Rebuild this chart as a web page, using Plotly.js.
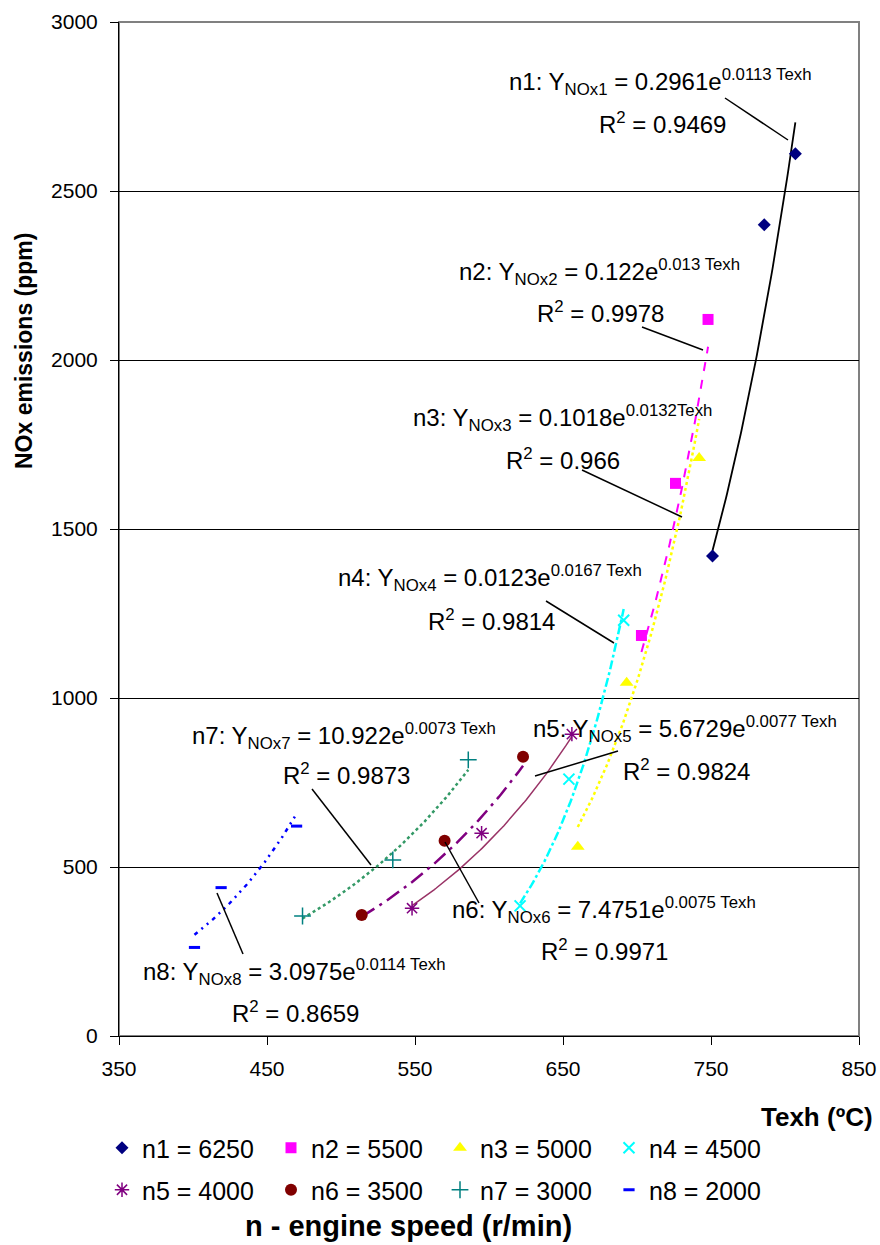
<!DOCTYPE html>
<html><head><meta charset="utf-8">
<script src="https://cdn.plot.ly/plotly-3.0.1.min.js"></script>
<style>html,body{margin:0;padding:0;background:#fff;}#chart{width:880px;height:1245px;}</style>
</head><body><div id="chart"></div>
<script>
// ---- data ----
const seriesNames = ['n1 = 6250','n2 = 5500','n3 = 5000','n4 = 4500','n5 = 4000','n6 = 3500','n7 = 3000','n8 = 2000'];
const n1_T = [751, 786, 807];   const n1_NOx = [1420, 2400, 2610];
const n2_T = [703, 726, 748];   const n2_NOx = [1185, 1635, 2120];
const n3_T = [660, 693, 742];   const n3_NOx = [560, 1045, 1710];
const n4_T = [621, 654, 691];   const n4_NOx = [385, 760, 1230];
const n5_T = [548, 595, 656];   const n5_NOx = [378, 600, 893];
const n6_T = [514, 570, 623];   const n6_NOx = [358, 578, 826];
const n7_T = [474, 535, 586];   const n7_NOx = [355, 521, 817];
const n8_T = [401, 419, 470];   const n8_NOx = [262, 439, 621];
// exponential trendline coefficients shown on the chart: Y = a*exp(b*Texh)
const trendA = [0.2961, 0.122, 0.1018, 0.0123, 5.6729, 7.4751, 10.922, 3.0975];
const trendB = [0.0113, 0.013, 0.0132, 0.0167, 0.0077, 0.0075, 0.0073, 0.0114];
const trendBText = ['0.0113 Texh','0.013 Texh','0.0132Texh','0.0167 Texh','0.0077 Texh','0.0075 Texh','0.0073 Texh','0.0114 Texh'];
const trendAText = ['0.2961','0.122','0.1018','0.0123','5.6729','7.4751','10.922','3.0975'];
const r2Text = ['0.9469','0.9978','0.966','0.9814','0.9824','0.9971','0.9873','0.8659'];

const allT = [n1_T,n2_T,n3_T,n4_T,n5_T,n6_T,n7_T,n8_T];
const allN = [n1_NOx,n2_NOx,n3_NOx,n4_NOx,n5_NOx,n6_NOx,n7_NOx,n8_NOx];

// ---- styles ----
const markerStyles = [
  {symbol:'diamond', color:'#000080', size:10},
  {symbol:'square', color:'#FF00FF', size:11},
  {symbol:'triangle-up', color:'#FFFF00', size:12},
  {symbol:'x-thin-open', color:'#00FFFF', size:11, line:{color:'#00FFFF', width:2}},
  {symbol:'asterisk-open', color:'#800080', size:12, line:{color:'#800080', width:1.5}},
  {symbol:'circle', color:'#800000', size:12},
  {symbol:'cross-thin-open', color:'#008080', size:12, line:{color:'#008080', width:1.5}},
  {symbol:'line-ew-open', color:'#0000FF', size:8, line:{color:'#0000FF', width:3}}
];
const lineStyles = [
  {color:'#000000', width:1.8, dash:'solid'},
  {color:'#FF00FF', width:2, dash:'dash'},
  {color:'#FFFF00', width:2.5, dash:'dot'},
  {color:'#00FFFF', width:2.5, dash:'dashdot'},
  {color:'#993366', width:1.5, dash:'solid'},
  {color:'#800080', width:2.5, dash:'longdashdot'},
  {color:'#339966', width:2.5, dash:'dot'},
  {color:'#0000FF', width:2.5, dash:'4px,5px,2px,5px,2px,5px'}
];

const traces = [];
for (let i = 0; i < 8; i++) {
  const T = allT[i];
  const t0 = Math.min(...T), t1 = Math.max(...T);
  const xs = [], ys = [];
  for (let k = 0; k <= 80; k++) {
    const t = t0 + (t1 - t0) * k / 80;
    xs.push(t); ys.push(trendA[i] * Math.exp(trendB[i] * t));
  }
  traces.push({x: xs, y: ys, type:'scatter', mode:'lines', line: lineStyles[i], showlegend:false, hoverinfo:'skip'});
}
for (let i = 0; i < 8; i++) {
  traces.push({x: allT[i], y: allN[i], type:'scatter', mode:'markers', name: seriesNames[i], marker: markerStyles[i],
               legend: i < 4 ? 'legend' : 'legend2'});
}

// pixel helpers for label placement (plot area: x 119..859, y 22..1036)
const L = 119, R = 21, TOP = 22, B = 209, W = 880 - L - R, H = 1245 - TOP - B;
const px = v => (v - L) / W;
const py = v => (TOP + H - v) / H;

const labelPos = [ // [eq center x, eq mid y, R2 center x, R2 mid y, leader x0,y0,x1,y1]
  [660, 82, 662, 123, 725, 98, 788, 140],
  [599, 272, 600, 312, 642, 327, 703, 350],
  [562, 418, 563, 459, 582, 470, 682, 517],
  [490, 578, 491, 620, 546, 601, 614, 643],
  [685, 729, 686, 770, 618, 751, 535, 776],
  [604, 910, 604, 950, 445, 842, 479, 903],
  [344, 736, 346, 774, 312, 789, 371, 865],
  [294, 972, 295, 1012, 217, 893, 243, 954]
];
const annFont = {family:'Liberation Sans, Arial, sans-serif', size:24, color:'#000'};
const annotations = [];
const shapes = [{type:'rect', xref:'paper', yref:'paper', x0:0, x1:1, y0:0, y1:1, line:{color:'#808080', width:2}, layer:'below'}];
for (let i = 0; i < 8; i++) {
  const p = labelPos[i];
  annotations.push({xref:'paper', yref:'paper', x:px(p[0]), y:py(p[1]), xanchor:'center', yanchor:'middle', showarrow:false, font:annFont,
    text:'n' + (i+1) + ': Y<sub>NOx' + (i+1) + '</sub> = ' + trendAText[i] + 'e<sup>' + trendBText[i] + '</sup>'});
  annotations.push({xref:'paper', yref:'paper', x:px(p[2]), y:py(p[3]), xanchor:'center', yanchor:'middle', showarrow:false, font:annFont,
    text:'R<sup>2</sup> = ' + r2Text[i]});
  shapes.push({type:'line', xref:'paper', yref:'paper', x0:px(p[4]), y0:py(p[5]), x1:px(p[6]), y1:py(p[7]), line:{color:'#000', width:1.5}});
}
const fam = 'Liberation Sans, Arial, sans-serif';
annotations.push({xref:'paper', yref:'paper', x:px(875), y:py(1117), xanchor:'right', yanchor:'middle', showarrow:false,
  font:{family:fam, size:26, color:'#000'}, text:'<b>Texh (ºC)</b>'});
annotations.push({xref:'paper', yref:'paper', x:px(24), y:py(351), xanchor:'center', yanchor:'middle', textangle:-90, showarrow:false,
  font:{family:fam, size:23, color:'#000'}, text:'<b>NOx emissions (ppm)</b>'});
annotations.push({xref:'paper', yref:'paper', x:px(408), y:py(1226), xanchor:'center', yanchor:'middle', showarrow:false,
  font:{family:fam, size:29, color:'#000'}, text:'<b>n - engine speed (r/min)</b>'});

const tickFont = {family:fam, size:21, color:'#000'};
const legFont = {family:fam, size:25, color:'#000'};
const layout = {
  width: 880, height: 1245,
  margin: {l:L, r:R, t:TOP, b:B, pad:0},
  paper_bgcolor:'#fff', plot_bgcolor:'#fff',
  xaxis: {range:[350,850], tick0:350, dtick:100, ticks:'outside', ticklen:8, tickcolor:'#000', showline:true, linecolor:'#000', linewidth:1,
          showgrid:false, zeroline:false, tickfont:tickFont, ticklabelstandoff:6, fixedrange:true},
  yaxis: {range:[0,3000], dtick:500, ticks:'outside', ticklen:8, tickcolor:'#000', showline:true, linecolor:'#000', linewidth:1,
          showgrid:true, gridcolor:'#000', gridwidth:1, zeroline:false, tickfont:tickFont, ticklabelstandoff:8, fixedrange:true},
  showlegend:true,
  legend: {orientation:'h', x:px(102), y:py(1125), xanchor:'left', yanchor:'top', entrywidth:124, entrywidthmode:'pixels',
           font:legFont, bgcolor:'rgba(0,0,0,0)', itemwidth:30},
  legend2: {orientation:'h', x:px(102), y:py(1167), xanchor:'left', yanchor:'top', entrywidth:124, entrywidthmode:'pixels',
           font:legFont, bgcolor:'rgba(0,0,0,0)', itemwidth:30},
  annotations: annotations,
  shapes: shapes
};
Plotly.newPlot('chart', traces, layout, {displayModeBar:false, staticPlot:true});
</script></body></html>
